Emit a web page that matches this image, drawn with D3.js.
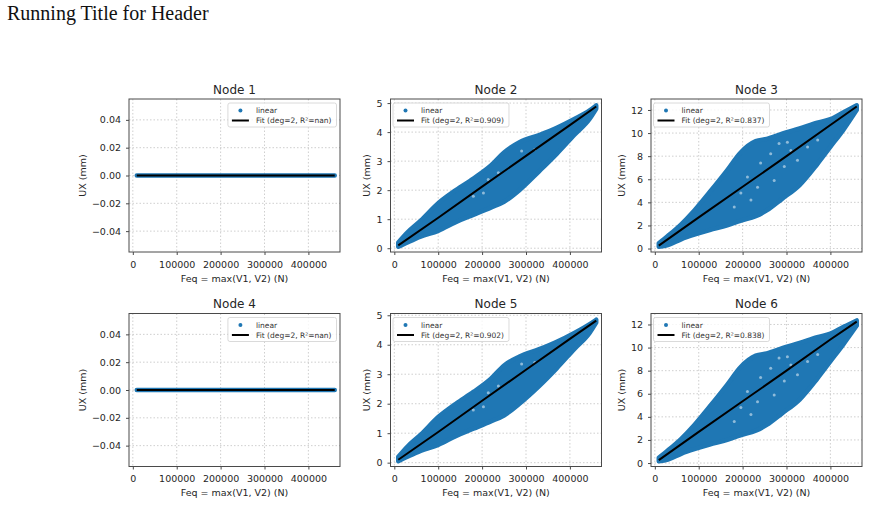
<!DOCTYPE html>
<html>
<head>
<meta charset="utf-8">
<script src="https://cdn.jsdelivr.net/npm/d3@7"></script>
<style>
  body { margin: 0; background: #fff; }
</style>
</head>
<body>
<div id="chart"></div>
<script>
// values: Feq (N) on x, UX (mm) on y
var titles = ["Node 1", "Node 2", "Node 3", "Node 4", "Node 5", "Node 6"];
var fitLabels = ["Fit (deg=2, R²=nan)", "Fit (deg=2, R²=0.909)", "Fit (deg=2, R²=0.837)",
                 "Fit (deg=2, R²=nan)", "Fit (deg=2, R²=0.902)", "Fit (deg=2, R²=0.838)"];
var xTicks = [0, 100000, 200000, 300000, 400000];
var yTicksFlat = [-0.04, -0.02, 0, 0.02, 0.04];
var yTicksSmall = [0, 1, 2, 3, 4, 5];
var yTicksBig = [0, 2, 4, 6, 8, 10, 12];

// nodes 1 and 4: every point sits on zero
var flatX  = [9000, 100000, 200000, 300000, 400000, 460000];
var flatLo = [0, 0, 0, 0, 0, 0];
var flatHi = [0, 0, 0, 0, 0, 0];

// scatter clouds as lower / upper edges
var n2X  = [9000, 30000, 60000, 100000, 140000, 180000, 220000, 250000, 285000, 330000, 370000, 410000, 445000, 460000];
var n2Lo = [0.05, 0.2, 0.4, 0.6, 0.9, 1.15, 1.4, 1.6, 2.0, 2.65, 3.25, 3.9, 4.45, 4.8];
var n2Hi = [0.2, 0.55, 0.95, 1.55, 2.0, 2.4, 2.85, 3.3, 3.65, 3.9, 4.15, 4.45, 4.75, 4.92];

var n5X  = [9000, 30000, 60000, 100000, 140000, 180000, 220000, 250000, 285000, 330000, 370000, 410000, 445000, 460000];
var n5Lo = [0.05, 0.2, 0.4, 0.6, 0.9, 1.15, 1.4, 1.6, 2.0, 2.6, 3.2, 3.85, 4.4, 4.75];
var n5Hi = [0.2, 0.55, 0.95, 1.55, 2.0, 2.4, 2.85, 3.3, 3.6, 3.85, 4.1, 4.4, 4.7, 4.85];

var n3X  = [9000, 30000, 60000, 90000, 125000, 165000, 195000, 230000, 255000, 290000, 330000, 370000, 400000, 430000, 460000];
var n3Lo = [0.15, 0.3, 0.8, 1.2, 1.6, 2.0, 2.4, 2.8, 3.3, 4.3, 5.5, 7.3, 8.8, 10.3, 12.0];
var n3Hi = [0.45, 1.1, 2.1, 3.3, 4.9, 6.8, 8.3, 9.3, 9.5, 9.95, 10.4, 10.9, 11.2, 11.8, 12.4];

var n6X  = [9000, 30000, 60000, 90000, 125000, 165000, 195000, 230000, 255000, 290000, 330000, 370000, 400000, 430000, 460000];
var n6Lo = [0.15, 0.3, 0.8, 1.2, 1.6, 2.0, 2.4, 2.8, 3.3, 4.3, 5.5, 7.3, 8.8, 10.3, 11.9];
var n6Hi = [0.45, 1.1, 2.1, 3.3, 4.9, 6.8, 8.3, 9.3, 9.5, 9.95, 10.4, 10.9, 11.2, 11.8, 12.35];

// white gaps inside the clouds
var gapsSmallX = [180000, 203000, 214000, 320000, 290000, 237000];
var gapsSmallY = [1.79, 1.9, 2.37, 3.4, 3.35, 2.6];
var gapsBigX = [283000, 302000, 310000, 264000, 241000, 211000, 234000, 196000, 272000, 325000, 348000, 181000, 219000, 295000, 371000];
var gapsBigY = [9.1, 9.2, 8.5, 8.2, 7.4, 6.2, 5.3, 4.8, 5.9, 7.65, 8.8, 3.6, 4.2, 7.1, 9.4];

// quadratic fit curves
var fitX  = [9000, 100000, 200000, 300000, 400000, 460000];
var flatFit = [0, 0, 0, 0, 0, 0];
var n2Fit = [0.10, 1.05, 2.12, 3.18, 4.24, 4.88];
var n3Fit = [0.25, 2.70, 5.35, 8.00, 10.70, 12.30];
var n5Fit = [0.10, 1.04, 2.10, 3.15, 4.20, 4.82];
var n6Fit = [0.25, 2.70, 5.35, 8.00, 10.70, 12.25];

var W = 872, H = 508;
var colLeft = [129, 390.5, 651];
var rowTop = [99, 313.5];
var pw = 211, ph = 153;
var blue = "#1f77b4";
var font = "'DejaVu Sans', sans-serif";
var ink = "#262626";

var panels = [
  {cx: flatX, lo: flatLo, hi: flatHi, fit: flatFit, gx: [], gy: [], yd: [-0.055, 0.055], yt: yTicksFlat, fmt: d3.format(".2f"), leg: "right"},
  {cx: n2X, lo: n2Lo, hi: n2Hi, fit: n2Fit, gx: gapsSmallX, gy: gapsSmallY, yd: [-0.13, 5.14], yt: yTicksSmall, fmt: d3.format("d"), leg: "left"},
  {cx: n3X, lo: n3Lo, hi: n3Hi, fit: n3Fit, gx: gapsBigX, gy: gapsBigY, yd: [-0.3, 12.95], yt: yTicksBig, fmt: d3.format("d"), leg: "left"},
  {cx: flatX, lo: flatLo, hi: flatHi, fit: flatFit, gx: [], gy: [], yd: [-0.055, 0.055], yt: yTicksFlat, fmt: d3.format(".2f"), leg: "right"},
  {cx: n5X, lo: n5Lo, hi: n5Hi, fit: n5Fit, gx: gapsSmallX, gy: gapsSmallY, yd: [-0.13, 5.06], yt: yTicksSmall, fmt: d3.format("d"), leg: "left"},
  {cx: n6X, lo: n6Lo, hi: n6Hi, fit: n6Fit, gx: gapsBigX, gy: gapsBigY, yd: [-0.3, 12.95], yt: yTicksBig, fmt: d3.format("d"), leg: "left"}
];

var svg = d3.select("#chart").append("svg")
  .attr("width", W)
  .attr("height", H)
  .style("font-family", font);

svg.append("rect").attr("width", W).attr("height", H).attr("fill", "#fff");

svg.append("text")
  .attr("x", 7).attr("y", 20)
  .attr("font-family", "'Liberation Serif', 'Times New Roman', serif")
  .attr("font-size", "20px")
  .attr("fill", "#111")
  .text("Running Title for Header");

var x = d3.scaleLinear().domain([-8700, 472000]).range([0, pw]);

panels.forEach(function(p, i) {
  var left = colLeft[i % 3], top = rowTop[Math.floor(i / 3)];
  var y = d3.scaleLinear().domain(p.yd).range([ph, 0]);
  var g = svg.append("g").attr("transform", "translate(" + left + "," + top + ")");

  g.append("clipPath").attr("id", "clip" + i)
    .append("rect").attr("width", pw).attr("height", ph);

  // grid
  g.selectAll(".gx").data(xTicks).enter().append("line")
    .attr("x1", function(d) { return x(d); }).attr("x2", function(d) { return x(d); })
    .attr("y1", 0).attr("y2", ph)
    .attr("stroke", "#b0b0b0").attr("stroke-width", 0.8)
    .attr("stroke-dasharray", "1.5,2").attr("opacity", 0.75);
  g.selectAll(".gy").data(p.yt).enter().append("line")
    .attr("x1", 0).attr("x2", pw)
    .attr("y1", function(d) { return y(d); }).attr("y2", function(d) { return y(d); })
    .attr("stroke", "#b0b0b0").attr("stroke-width", 0.8)
    .attr("stroke-dasharray", "1.5,2").attr("opacity", 0.75);

  // scatter cloud
  var cloud = p.cx.map(function(v, k) { return {x: v, lo: p.lo[k], hi: p.hi[k]}; });
  var area = d3.area()
    .curve(d3.curveMonotoneX)
    .x(function(d) { return x(d.x); })
    .y0(function(d) { return y(d.lo); })
    .y1(function(d) { return y(d.hi); });
  var cg = g.append("g").attr("clip-path", "url(#clip" + i + ")");
  cg.append("path")
    .datum(cloud)
    .attr("d", area)
    .attr("fill", blue)
    .attr("stroke", blue)
    .attr("stroke-width", 4.5)
    .attr("stroke-linejoin", "round");
  cg.selectAll(".gap")
    .data(p.gx.map(function(v, k) { return [v, p.gy[k]]; }))
    .enter().append("circle")
    .attr("cx", function(d) { return x(d[0]); })
    .attr("cy", function(d) { return y(d[1]); })
    .attr("r", 1.5)
    .attr("fill", "#fff")
    .attr("opacity", 0.5);

  // fit curve
  var fitPts = fitX.map(function(v, k) { return [v, p.fit[k]]; });
  g.append("path")
    .datum(fitPts)
    .attr("d", d3.line().x(function(d) { return x(d[0]); }).y(function(d) { return y(d[1]); }))
    .attr("fill", "none")
    .attr("stroke", "#000")
    .attr("stroke-width", 2);

  // frame
  g.append("rect")
    .attr("width", pw).attr("height", ph)
    .attr("fill", "none").attr("stroke", "#4a4a4a").attr("stroke-width", 1);

  // axes
  var xa = g.append("g").attr("transform", "translate(0," + ph + ")")
    .call(d3.axisBottom(x).tickValues(xTicks).tickFormat(d3.format("d")).tickSize(3).tickPadding(6));
  var ya = g.append("g")
    .call(d3.axisLeft(y).tickValues(p.yt).tickFormat(p.fmt).tickSize(3).tickPadding(5));
  [xa, ya].forEach(function(a) {
    a.select(".domain").remove();
    a.selectAll(".tick line").attr("stroke", "#4a4a4a");
    a.selectAll(".tick text").attr("font-family", font).attr("font-size", "9.5px").attr("fill", ink);
  });

  g.append("text")
    .attr("x", pw / 2).attr("y", -5.5)
    .attr("text-anchor", "middle")
    .attr("font-size", "12px").attr("fill", ink)
    .text(titles[i]);

  g.append("text")
    .attr("x", pw / 2).attr("y", ph + 29.5)
    .attr("text-anchor", "middle")
    .attr("font-size", "9.5px").attr("fill", ink)
    .text("Feq = max(V1, V2) (N)");

  var tickLeft = d3.min(ya.selectAll(".tick text").nodes(), function(n) { return n.getBBox().x; });
  g.append("text")
    .attr("transform", "translate(" + (tickLeft - 9.5) + "," + (ph / 2) + ") rotate(-90)")
    .attr("text-anchor", "middle")
    .attr("dominant-baseline", "central")
    .attr("font-size", "9.5px").attr("fill", ink)
    .text("UX (mm)");

  // legend
  var lg = g.append("g");
  var box = lg.append("rect")
    .attr("y", 4).attr("height", 24).attr("rx", 2)
    .attr("fill", "#fff").attr("fill-opacity", 0.8)
    .attr("stroke", "#d0d0d0").attr("stroke-width", 0.8);
  lg.append("circle").attr("cx", 12.5).attr("cy", 11.5).attr("r", 2).attr("fill", blue);
  lg.append("line").attr("x1", 4).attr("x2", 21).attr("y1", 21.5).attr("y2", 21.5)
    .attr("stroke", "#000").attr("stroke-width", 2);
  lg.append("text").attr("x", 28).attr("y", 11.5).attr("dominant-baseline", "central")
    .attr("font-size", "7.5px").attr("fill", "#333").text("linear");
  var ft = lg.append("text").attr("x", 28).attr("y", 21.5).attr("dominant-baseline", "central")
    .attr("font-size", "7.5px").attr("fill", "#333").text(fitLabels[i]);
  var bw = 28 + ft.node().getComputedTextLength() + 5;
  box.attr("x", 0).attr("width", bw);
  var lx = p.leg === "left" ? 2.5 : pw - 3.5 - bw;
  lg.attr("transform", "translate(" + lx + ",0)");
});
</script>
</body>
</html>
